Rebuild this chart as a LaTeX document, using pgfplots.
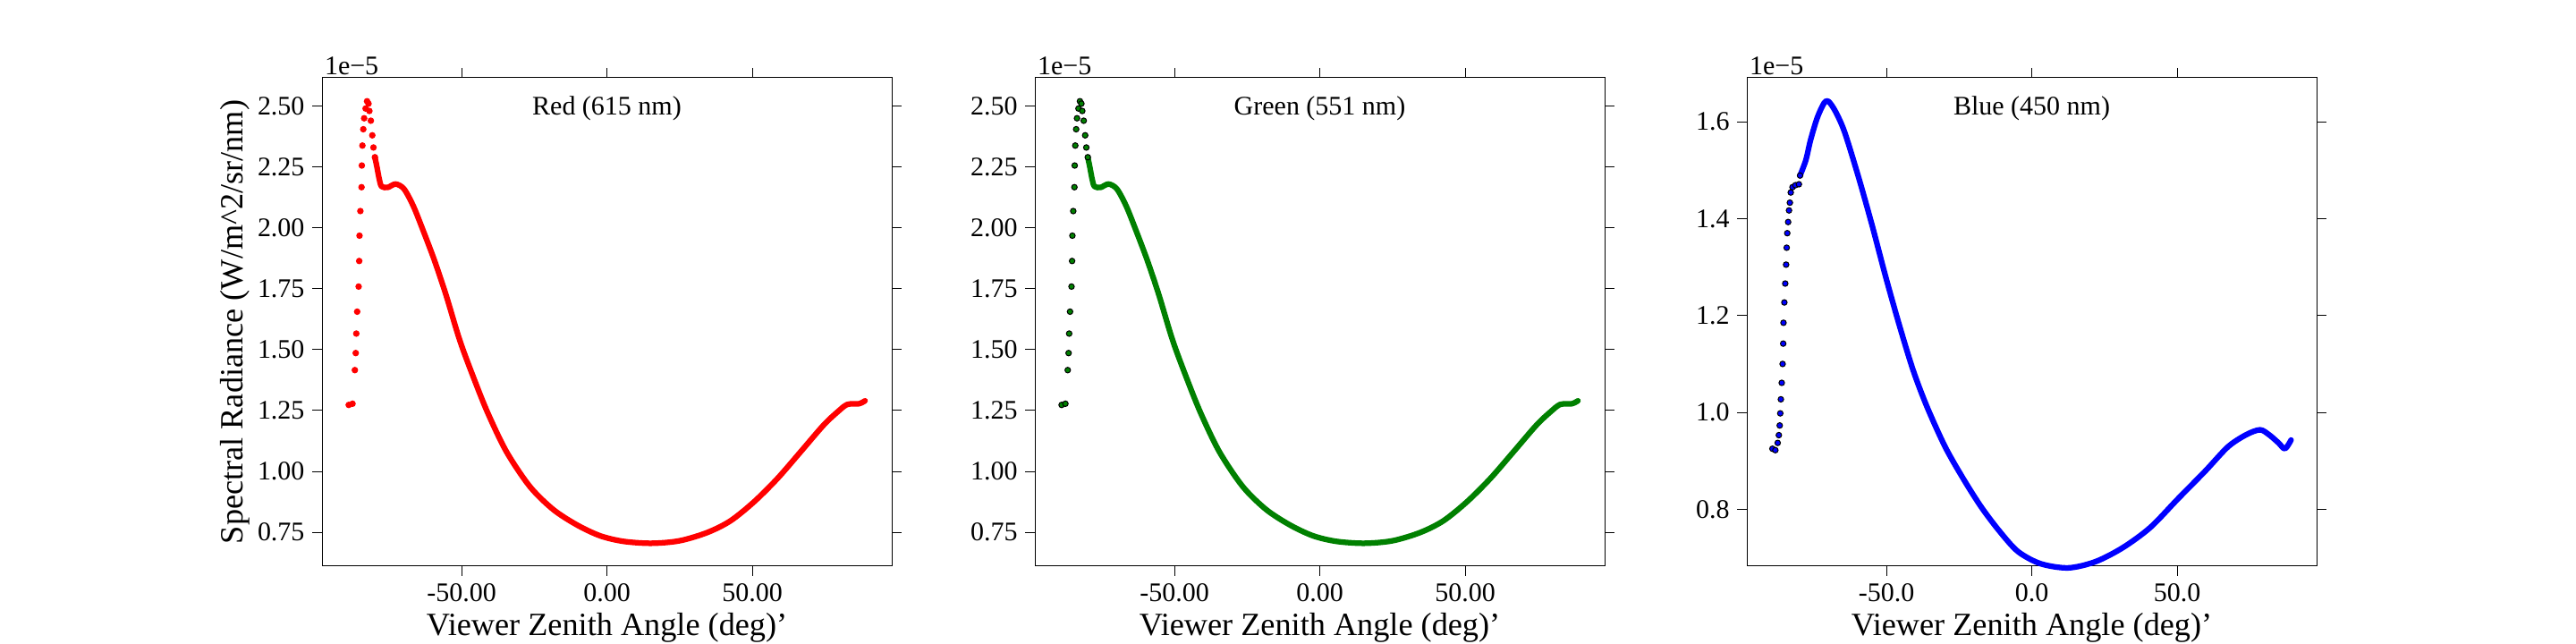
\documentclass[border=0pt]{standalone}
\usepackage{pgfplots}
\pgfplotsset{compat=1.18}
\usepackage{fontspec}
\setmainfont{Liberation Serif}
\pgfplotstableread{
x y
-88.8 1.273
-87.5 1.278
-86.7 1.416
-86.4 1.486
-86.2 1.566
-85.9 1.656
-85.4 1.759
-85.2 1.864
-85.1 1.968
-84.8 2.069
-84.4 2.167
-84.3 2.256
-84.1 2.338
-83.8 2.405
-83.5 2.450
-83.0 2.490
-82.5 2.520
-82.0 2.510
-81.7 2.480
-81.2 2.440
-80.7 2.380
-80.3 2.330
-79.8 2.290
}\redsparse
\pgfplotstableread{
x y
-79.8 2.290
-79.1 2.250
-78.3 2.200
-77.5 2.170
-75.4 2.166
-72.7 2.180
-69.8 2.160
-66.6 2.090
-63.4 1.995
-59.4 1.869
-55.4 1.727
-50.6 1.538
-45.7 1.380
-40.9 1.238
-34.5 1.080
-26.5 0.938
-18.5 0.844
-10.4 0.781
-2.4 0.736
5.6 0.713
15.2 0.705
24.9 0.715
34.5 0.749
42.5 0.797
50.6 0.875
58.6 0.970
66.6 1.080
74.6 1.191
79.5 1.246
82.7 1.275
86.7 1.278
88.8 1.290
}\reddense
\pgfplotstableread{
x y
-89.2 0.925
-88.2 0.922
-87.4 0.937
-87.0 0.953
-86.7 0.973
-86.5 0.998
-86.3 1.027
-86.0 1.061
-85.7 1.100
-85.5 1.142
-85.4 1.185
-85.1 1.227
-84.8 1.266
-84.5 1.305
-84.3 1.340
-84.1 1.370
-83.8 1.393
-83.5 1.417
-83.2 1.433
-82.9 1.454
-82.3 1.465
-81.3 1.469
-80.1 1.471
-79.7 1.489
}\bluesparse
\pgfplotstableread{
x y
-79.7 1.489
-77.7 1.521
-76.1 1.562
-73.8 1.608
-71.4 1.639
-69.9 1.642
-67.5 1.621
-64.4 1.579
-59.7 1.488
-55.0 1.388
-50.2 1.279
-45.5 1.179
-40.8 1.087
-36.1 1.0125
-29.8 0.929
-23.5 0.8625
-17.3 0.804
-11.0 0.754
-4.7 0.7125
3.1 0.6875
12.6 0.679
22.0 0.692
31.4 0.721
40.8 0.7625
50.2 0.821
59.7 0.879
67.5 0.929
73.8 0.954
78.5 0.964
81.6 0.954
84.8 0.9375
87.1 0.925
89.2 0.943
}\bluedense
\pgfplotsset{
  panel/.style={
    width=254.8pt, height=218.6pt, scale only axis,
    anchor=south west,
    xmin=-98, xmax=98,
    xtick={-50,0,50},
    tick align=outside, tick style={black, thin},
    ticklabel style={font=\fontsize{12}{14}\selectfont},
    /pgf/number format/assume math mode=true,
    /pgf/number format/fixed,
    /pgf/number format/fixed zerofill,
    axis line style={black, thin},
    xlabel={Viewer Zenith Angle (deg)'},
    xlabel style={font=\fontsize{14.5}{16}\selectfont, at={(rel axis cs:0.5,0)}, anchor=base, yshift=-31pt},
    clip=false,
  }
}
\begin{document}
\begin{tikzpicture}
\path[use as bounding box] (0,0) rectangle (1152pt,288pt);
\node[rotate=90, font=\fontsize{14.5}{16}\selectfont] at (105pt,144pt) {Spectral Radiance (W/m\textasciicircum2/sr/nm)};
% Red
\begin{axis}[panel, at={(144pt,34.8pt)}, ymin=0.611, ymax=2.618,
  ytick={0.75,1.00,1.25,1.50,1.75,2.00,2.25,2.50},
  /pgf/number format/precision=2]
\addplot[red, line width=2.5pt, line cap=round, line join=round, smooth] table {\reddense};
\addplot[only marks, mark=*, mark size=1.25pt, red, mark options={draw=none, fill=red}] table {\redsparse};
\node[anchor=north, font=\fontsize{12}{14}\selectfont] at (rel axis cs:0.5,1) [yshift=-5pt] {Red (615 nm)};
\node[anchor=south west, inner sep=1pt, font=\fontsize{12}{14}\selectfont] at (rel axis cs:0,1) {1e\textminus5};
\end{axis}
% Green
\begin{axis}[panel, at={(462.8pt,34.8pt)}, ymin=0.611, ymax=2.618,
  ytick={0.75,1.00,1.25,1.50,1.75,2.00,2.25,2.50},
  /pgf/number format/precision=2]
\addplot[green!50!black, line width=2.5pt, line cap=round, line join=round, smooth] table {\reddense};
\addplot[only marks, mark=*, mark size=1.25pt, mark options={draw=none, fill=green!50!black}] table {\redsparse};
\node[anchor=north, font=\fontsize{12}{14}\selectfont] at (rel axis cs:0.5,1) [yshift=-5pt] {Green (551 nm)};
\node[anchor=south west, inner sep=1pt, font=\fontsize{12}{14}\selectfont] at (rel axis cs:0,1) {1e\textminus5};
\end{axis}
% Blue
\begin{axis}[panel, at={(781.2pt,34.8pt)}, ymin=0.6825, ymax=1.6917,
  ytick={0.8,1.0,1.2,1.4,1.6},
  /pgf/number format/precision=1]
\addplot[blue, line width=2.5pt, line cap=round, line join=round, smooth] table {\bluedense};
\addplot[only marks, mark=*, mark size=1.25pt, mark options={draw=none, fill=blue}] table {\bluesparse};
\node[anchor=north, font=\fontsize{12}{14}\selectfont] at (rel axis cs:0.5,1) [yshift=-5pt] {Blue (450 nm)};
\node[anchor=south west, inner sep=1pt, font=\fontsize{12}{14}\selectfont] at (rel axis cs:0,1) {1e\textminus5};
\end{axis}
\end{tikzpicture}
\end{document}
